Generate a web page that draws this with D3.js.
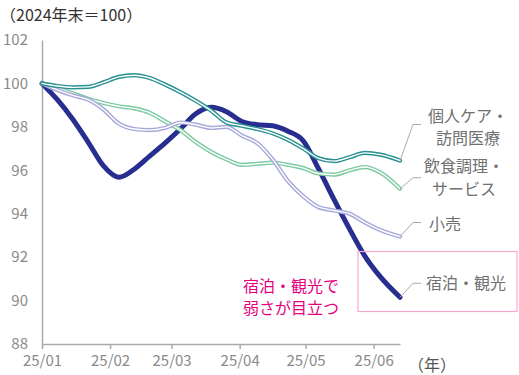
<!DOCTYPE html>
<html>
<head>
    <meta charset="utf-8">
    <title>業種別推移</title>
    <script src="https://cdnjs.cloudflare.com/ajax/libs/d3/7.8.5/d3.min.js"></script>
    <style>
        body { margin: 0; background: #fff; }
        text { font-family: "Noto Sans CJK JP", "Noto Sans", sans-serif; }
    </style>
</head>
<body>
<script>
    // weekly readings, 2024年末 = 100
    var dates = ["2025-01-01","2025-01-08","2025-01-15","2025-01-22","2025-01-29",
                 "2025-02-05","2025-02-12","2025-02-19","2025-02-26","2025-03-05",
                 "2025-03-12","2025-03-19","2025-03-26","2025-04-02","2025-04-09",
                 "2025-04-16","2025-04-23","2025-04-30","2025-05-07","2025-05-14",
                 "2025-05-21","2025-05-28","2025-06-04","2025-06-13"];
    var shukuhaku = [100, 99.25, 98.35, 97.3, 96.2, 95.68, 96.05, 96.65, 97.25, 97.9, 98.6, 98.9,
                     98.7, 98.25, 98.1, 98.05, 97.8, 97.35, 96.05, 94.65, 93.3, 92.05, 91.1, 90.15];
    var kojinCare = [100, 99.88, 99.82, 99.84, 100.05, 100.3, 100.38, 100.25, 99.95, 99.6, 99.2, 98.75,
                     98.2, 98.05, 97.9, 97.7, 97.4, 97.0, 96.55, 96.42, 96.6, 96.8, 96.72, 96.45];
    var inshoku = [100, 99.8, 99.55, 99.3, 99.1, 98.95, 98.85, 98.65, 98.25, 97.85, 97.3, 96.85,
                   96.5, 96.25, 96.3, 96.35, 96.25, 96.1, 95.85, 95.8, 96.0, 96.15, 95.9, 95.15];
    var kouri = [100, 99.7, 99.45, 99.25, 98.8, 98.15, 97.9, 97.85, 97.95, 98.2, 98.1, 97.95,
                 98.0, 97.6, 97.25, 96.5, 95.5, 94.8, 94.3, 94.15, 94.0, 93.6, 93.25, 92.95];
    var yTicks = [88, 90, 92, 94, 96, 98, 100, 102];

    var width = 519, height = 375;
    var parse = d3.timeParse("%Y-%m-%d");
    var days = dates.map(parse);

    var svg = d3.select("body").append("svg")
        .attr("width", width)
        .attr("height", height);

    var x = d3.scaleTime()
        .domain(d3.extent(days))
        .range([42, 400]);
    var y = d3.scaleLinear()
        .domain([88, 102])
        .range([344, 40]);

    // title
    svg.append("text")
        .attr("x", 0).attr("y", 14)
        .attr("dominant-baseline", "central")
        .attr("font-size", 16).attr("fill", "#333")
        .text("（2024年末＝100）");

    // y axis
    var yAxis = svg.append("g")
        .attr("transform", "translate(42,0)")
        .call(d3.axisLeft(y).tickValues(yTicks).tickSize(0).tickPadding(14));
    yAxis.select(".domain").attr("stroke", "#aaa").attr("stroke-width", 1.5);
    yAxis.selectAll("text").attr("font-size", 15).attr("fill", "#8a8a8a")
        .style("font-family", "'Noto Sans CJK JP', sans-serif");

    // x axis
    var xAxis = svg.append("g")
        .attr("transform", "translate(0,344)")
        .call(d3.axisBottom(x)
            .ticks(d3.timeMonth.every(1))
            .tickFormat(d3.timeFormat("%y/%m"))
            .tickSize(5).tickSizeOuter(0).tickPadding(6));
    xAxis.select(".domain").attr("stroke", "#aaa").attr("stroke-width", 1.5);
    xAxis.selectAll(".tick line").attr("stroke", "#aaa").attr("stroke-width", 1.5);
    xAxis.selectAll("text").attr("font-size", 15).attr("fill", "#8a8a8a")
        .style("font-family", "'Noto Sans CJK JP', sans-serif");

    svg.append("text")
        .attr("x", 408).attr("y", 364)
        .attr("dominant-baseline", "central")
        .attr("font-size", 16).attr("fill", "#555")
        .text("（年）");

    var line = d3.line()
        .x(function(d, i){ return x(days[i]); })
        .y(function(d){ return y(d); })
        .curve(d3.curveMonotoneX);

    // main series first, thin double lines on top
    svg.append("path")
        .attr("d", line(shukuhaku))
        .attr("fill", "none")
        .attr("stroke", "#272e8f")
        .attr("stroke-width", 5)
        .attr("stroke-linecap", "round")
        .attr("stroke-linejoin", "round");

    function doubleLine(values, color){
        var g = svg.append("g");
        g.append("path")
            .attr("d", line(values))
            .attr("fill", "none")
            .attr("stroke", color)
            .attr("stroke-width", 4.2)
            .attr("stroke-linecap", "round");
        g.append("path")
            .attr("d", line(values))
            .attr("fill", "none")
            .attr("stroke", "#fff")
            .attr("stroke-width", 1.4)
            .attr("stroke-linecap", "round");
    }
    doubleLine(inshoku, "#7ccaa0");
    doubleLine(kouri, "#a6a9d9");
    doubleLine(kojinCare, "#28908f");

    // pink highlight box
    svg.append("rect")
        .attr("x", 358).attr("y", 251.5)
        .attr("width", 159).attr("height", 60)
        .attr("fill", "none")
        .attr("stroke", "#f7a8cf")
        .attr("stroke-width", 1.2);

    // end labels with leader lines
    var last = days.length - 1;
    var labels = [
        {values: kojinCare, dy: -36, lines: ["個人ケア・", "訪問医療"], tx: 468, ty: [115, 137]},
        {values: inshoku, dy: -11, lines: ["飲食調理・", "サービス"], tx: 464, ty: [165, 188]},
        {values: kouri, dy: -14, lines: ["小売"], tx: 445, ty: [223]},
        {values: shukuhaku, dy: -14, lines: ["宿泊・観光"], tx: 466, ty: [282]}
    ];
    labels.forEach(function(l){
        var x0 = x(days[last]), y0 = y(l.values[last]);
        svg.append("path")
            .attr("d", "M" + x0 + "," + y0 + "L" + (x0 + 13) + "," + (y0 + l.dy) + "h8")
            .attr("fill", "none")
            .attr("stroke", "#aaa")
            .attr("stroke-width", 1);
        l.lines.forEach(function(t, i){
            svg.append("text")
                .attr("x", l.tx).attr("y", l.ty[i])
                .attr("text-anchor", "middle")
                .attr("dominant-baseline", "central")
                .attr("font-size", 16).attr("fill", "#707070")
                .text(t);
        });
    });

    // annotation
    ["宿泊・観光で", "弱さが目立つ"].forEach(function(t, i){
        svg.append("text")
            .attr("x", 291).attr("y", 285 + i * 22)
            .attr("text-anchor", "middle")
            .attr("dominant-baseline", "central")
            .attr("font-size", 16).attr("fill", "#e6007e")
            .text(t);
    });
</script>
</body>
</html>
